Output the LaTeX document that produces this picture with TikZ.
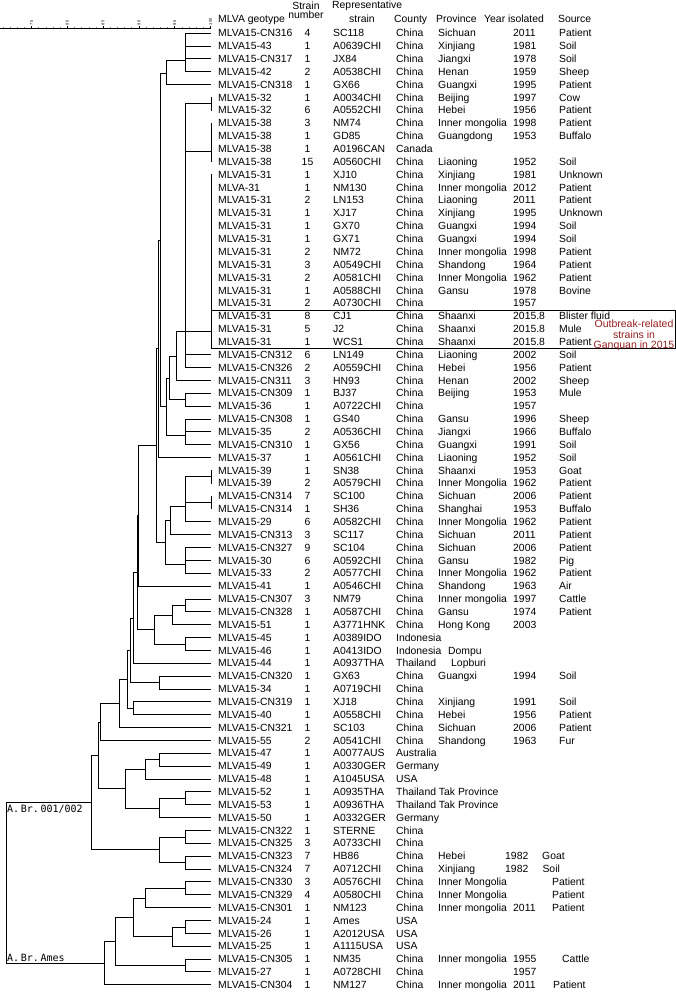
\documentclass[tikz,border=0pt]{standalone}
\usepackage{fontspec}
\setmainfont{Liberation Sans}
\newfontfamily\brfont{DejaVu Sans Mono}
\usepackage{tikz}

\begin{document}
\begin{tikzpicture}[x=1pt,y=-1pt,
  branch/.style={line width=0.8pt,line cap=rect},
  cell/.style={anchor=base west,inner sep=0pt,font=\fontsize{10.4}{12}\selectfont},
  num/.style={anchor=base,inner sep=0pt,font=\fontsize{10.4}{12}\selectfont},
  brlabel/.style={inner sep=0pt,font=\brfont\fontsize{10}{12}\selectfont}]
  \useasboundingbox (0,0) rectangle (676,992);
  \def\rowtop{33.1}\def\rowgap{12.86}\def\leafx{211}
  \definecolor{outred}{RGB}{150,30,30}

  % similarity scale
  \draw[line width=0.6pt] (0,28.3) -- (211,28.3);
  \foreach \m in {0,...,29}
    \draw[gray,line width=0.5pt] ({210.5-7.16*\m},28.3) -- ++(0,-1.3);
  \foreach \k/\v in {0/100,1/95,2/90,3/85,4/80,5/75}{
    \draw[line width=0.5pt] ({210.5-35.8*\k},28.3) -- ++(0,-2.5);
    \node[rotate=90,anchor=west,inner sep=0pt,font=\fontsize{4}{4}\selectfont]
      (tick\k) at ({210.5-35.8*\k},25.3) {\v};
  }

  % leaf ends
  \foreach \i in {1,...,75}{
    \pgfmathsetmacro{\yl}{\rowtop+\rowgap*(\i-1)}
    \coordinate (l\i) at (\leafx,\yl);
  }

  % inner nodes of the tree
  \coordinate (nA)   at (185,60.6);
  \coordinate (nB)   at (166,73.5);
  \coordinate (n6)   at (211,103.8);
  \coordinate (n8)   at (211,151);
  \coordinate (n12)  at (211,331);
  \coordinate (nD)   at (185,331);
  \coordinate (nE)   at (176,356);
  \coordinate (nG)   at (185,399.6);
  \coordinate (nF)   at (169,378);
  \coordinate (nI)   at (185,435);
  \coordinate (nH)   at (166,406.5);
  \coordinate (nC)   at (160,240);
  \coordinate (nJ)   at (158,348.7);
  \coordinate (n35)  at (211,476.8);
  \coordinate (n37)  at (211,502.5);
  \coordinate (nK)   at (185,506);
  \coordinate (nL)   at (170,520.3);
  \coordinate (nN)   at (185,564);
  \coordinate (nM)   at (165,542);
  \coordinate (nP)   at (156.5,445.3);
  \coordinate (nQ)   at (138.5,515.7);
  \coordinate (nT)   at (185,605.4);
  \coordinate (nU)   at (172,615);
  \coordinate (nV)   at (185,644);
  \coordinate (nS)   at (154,629.5);
  \coordinate (nR)   at (137.5,572.6);
  \coordinate (nW)   at (133,618);
  \coordinate (nX)   at (159,682.5);
  \coordinate (nWW)  at (130,650.2);
  \coordinate (nZ)   at (133,708.3);
  \coordinate (nAA)  at (127.7,679.2);
  \coordinate (nAB)  at (119.3,703.4);
  \coordinate (nAC)  at (100,721.9);
  \coordinate (nAE)  at (159.3,759.7);
  \coordinate (nAF)  at (145.7,769.3);
  \coordinate (nAG)  at (185,798.3);
  \coordinate (nAH)  at (159.3,807.9);
  \coordinate (nAI)  at (125,788.6);
  \coordinate (nAL)  at (98,755.3);
  \coordinate (n63)  at (185,836.9);
  \coordinate (n65)  at (185,862.6);
  \coordinate (nAJ)  at (159.3,849.7);
  \coordinate (nBr)  at (91.7,802.5);
  \coordinate (n67)  at (185,888.3);
  \coordinate (nAM)  at (145.7,897.9);
  \coordinate (n70)  at (185,926.9);
  \coordinate (nAN)  at (172.3,936.5);
  \coordinate (nAO)  at (133.3,917.2);
  \coordinate (n73)  at (185,965.5);
  \coordinate (nAP)  at (115,941.3);
  \coordinate (nAmes) at (104.3,963);
  \coordinate (root) at (6,882.8);

  % branches
  \foreach \i in {12,...,25}
    \draw[branch] (n12) |- (l\i);
  \foreach \p/\c in {nA/l1,nA/l2,nA/l3,nA/l4,nB/nA,nB/l5,n6/l6,n6/l7,
      n8/l8,n8/l9,n8/l10,n8/l11,nD/n6,nD/n8,nD/n12,nD/l26,nD/l27,
      nE/nD,nE/l28,nG/l29,nG/l30,nF/nE,nF/nG,nI/l31,nI/l32,nI/l33,
      nH/nF,nH/nI,nC/nB,nC/nH,nJ/nC,nJ/l34,n35/l35,n35/l36,n37/l37,n37/l38,
      nK/n35,nK/n37,nK/l39,nL/nK,nL/l40,nN/l41,nN/l42,nN/l43,nM/nL,nM/nN,
      nP/nJ,nP/nM,nQ/nP,nQ/l44,nT/l45,nT/l46,nU/nT,nU/l47,nV/l48,nV/l49,
      nS/nU,nS/nV,nR/nQ,nR/nS,nW/nR,nW/l50,nX/l51,nX/l52,nWW/nW,nWW/nX,
      nZ/l53,nZ/l54,nAA/nWW,nAA/nZ,nAB/nAA,nAB/l55,nAC/nAB,nAC/l56,
      nAE/l57,nAE/l58,nAF/nAE,nAF/l59,nAG/l60,nAG/l61,nAH/nAG,nAH/l62,
      nAI/nAF,nAI/nAH,nAL/nAC,nAL/nAI,n63/l63,n63/l64,n65/l65,n65/l66,
      nAJ/n63,nAJ/n65,nBr/nAL,nBr/nAJ,n67/l67,n67/l68,nAM/n67,nAM/l69,
      n70/l70,n70/l71,nAN/n70,nAN/l72,nAO/nAM,nAO/nAN,n73/l73,n73/l74,
      nAP/nAO,nAP/n73,nAmes/nAP,nAmes/l75,root/nBr,root/nAmes}
    \draw[branch] (\p) |- (\c);

  \node[brlabel,anchor=north west] (brA) at (7,805) {A.\,Br.\,001/002};
  \node[brlabel,anchor=south west] (brB) at (7,962) {A.\,Br.\,Ames};

  % header
  \node[cell] (hgeo)  at (218,23) {MLVA geotype};
  \node[num]  (hsn1)  at (306,10) {Strain};
  \node[num]  (hsn2)  at (306,19) {number};
  \node[cell] (hrep1) at (332,9)  {Representative};
  \node[cell] (hrep2) at (349,23) {strain};
  \node[cell] (hcty)  at (394,23) {County};
  \node[cell] (hprov) at (436,23) {Province};
  \node[cell] (hyear) at (484,23) {Year isolated};
  \node[cell] (hsrc)  at (558,23) {Source};

  % table rows
  \foreach \i/\rgeo/\rnum/\rstr/\rcty/\rprov/\ryear/\rsrc in {
    1/MLVA15-CN316/4/SC118/China/Sichuan/2011/Patient,
    2/MLVA15-43/1/A0639CHI/China/Xinjiang/1981/Soil,
    3/MLVA15-CN317/1/JX84/China/Jiangxi/1978/Soil,
    4/MLVA15-42/2/A0538CHI/China/Henan/1959/Sheep,
    5/MLVA15-CN318/1/GX66/China/Guangxi/1995/Patient,
    6/MLVA15-32/1/A0034CHI/China/Beijing/1997/Cow,
    7/MLVA15-32/6/A0552CHI/China/Hebei/1956/Patient,
    8/MLVA15-38/3/NM74/China/Inner mongolia/1998/Patient,
    9/MLVA15-38/1/GD85/China/Guangdong/1953/Buffalo,
    10/MLVA15-38/1/A0196CAN/Canada/{}/{}/{},
    11/MLVA15-38/15/A0560CHI/China/Liaoning/1952/Soil,
    12/MLVA15-31/1/XJ10/China/Xinjiang/1981/Unknown,
    13/MLVA-31/1/NM130/China/Inner mongolia/2012/Patient,
    14/MLVA15-31/2/LN153/China/Liaoning/2011/Patient,
    15/MLVA15-31/1/XJ17/China/Xinjiang/1995/Unknown,
    16/MLVA15-31/1/GX70/China/Guangxi/1994/Soil,
    17/MLVA15-31/1/GX71/China/Guangxi/1994/Soil,
    18/MLVA15-31/2/NM72/China/Inner mongolia/1998/Patient,
    19/MLVA15-31/3/A0549CHI/China/Shandong/1964/Patient,
    20/MLVA15-31/2/A0581CHI/China/Inner Mongolia/1962/Patient,
    21/MLVA15-31/1/A0588CHI/China/Gansu/1978/Bovine,
    22/MLVA15-31/2/A0730CHI/China/{}/1957/{},
    23/MLVA15-31/8/CJ1/China/Shaanxi/2015.8/Blister fluid,
    24/MLVA15-31/5/J2/China/Shaanxi/2015.8/Mule,
    25/MLVA15-31/1/WCS1/China/Shaanxi/2015.8/Patient,
    26/MLVA15-CN312/6/LN149/China/Liaoning/2002/Soil,
    27/MLVA15-CN326/2/A0559CHI/China/Hebei/1956/Patient,
    28/MLVA15-CN311/3/HN93/China/Henan/2002/Sheep,
    29/MLVA15-CN309/1/BJ37/China/Beijing/1953/Mule,
    30/MLVA15-36/1/A0722CHI/China/{}/1957/{},
    31/MLVA15-CN308/1/GS40/China/Gansu/1996/Sheep,
    32/MLVA15-35/2/A0536CHI/China/Jiangxi/1966/Buffalo,
    33/MLVA15-CN310/1/GX56/China/Guangxi/1991/Soil,
    34/MLVA15-37/1/A0561CHI/China/Liaoning/1952/Soil,
    35/MLVA15-39/1/SN38/China/Shaanxi/1953/Goat,
    36/MLVA15-39/2/A0579CHI/China/Inner Mongolia/1962/Patient,
    37/MLVA15-CN314/7/SC100/China/Sichuan/2006/Patient,
    38/MLVA15-CN314/1/SH36/China/Shanghai/1953/Buffalo,
    39/MLVA15-29/6/A0582CHI/China/Inner Mongolia/1962/Patient,
    40/MLVA15-CN313/3/SC117/China/Sichuan/2011/Patient,
    41/MLVA15-CN327/9/SC104/China/Sichuan/2006/Patient,
    42/MLVA15-30/6/A0592CHI/China/Gansu/1982/Pig,
    43/MLVA15-33/2/A0577CHI/China/Inner Mongolia/1962/Patient,
    44/MLVA15-41/1/A0546CHI/China/Shandong/1963/Air,
    45/MLVA15-CN307/3/NM79/China/Inner mongolia/1997/Cattle,
    46/MLVA15-CN328/1/A0587CHI/China/Gansu/1974/Patient,
    47/MLVA15-51/1/A3771HNK/China/Hong Kong/2003/{},
    48/MLVA15-45/1/A0389IDO/Indonesia/{}/{}/{},
    49/MLVA15-46/1/A0413IDO/Indonesia/{\hspace{10pt}Dompu}/{}/{},
    50/MLVA15-44/1/A0937THA/Thailand/{\hspace{13pt}Lopburi}/{}/{},
    51/MLVA15-CN320/1/GX63/China/Guangxi/1994/Soil,
    52/MLVA15-34/1/A0719CHI/China/{}/{}/{},
    53/MLVA15-CN319/1/XJ18/China/Xinjiang/1991/Soil,
    54/MLVA15-40/1/A0558CHI/China/Hebei/1956/Patient,
    55/MLVA15-CN321/1/SC103/China/Sichuan/2006/Patient,
    56/MLVA15-55/2/A0541CHI/China/Shandong/1963/Fur,
    57/MLVA15-47/1/A0077AUS/Australia/{}/{}/{},
    58/MLVA15-49/1/A0330GER/Germany/{}/{}/{},
    59/MLVA15-48/1/A1045USA/USA/{}/{}/{},
    60/MLVA15-52/1/A0935THA/Thailand Tak Province/{}/{}/{},
    61/MLVA15-53/1/A0936THA/Thailand Tak Province/{}/{}/{},
    62/MLVA15-50/1/A0332GER/Germany/{}/{}/{},
    63/MLVA15-CN322/1/STERNE/China/{}/{}/{},
    64/MLVA15-CN325/3/A0733CHI/China/{}/{}/{},
    65/MLVA15-CN323/7/HB86/China/Hebei/{\hspace{-8pt}1982}/{\hspace{-17pt}Goat},
    66/MLVA15-CN324/7/A0712CHI/China/Xinjiang/{\hspace{-8pt}1982}/{\hspace{-17pt}Soil},
    67/MLVA15-CN330/3/A0576CHI/China/Inner Mongolia/{}/{\hspace{-7pt}Patient},
    68/MLVA15-CN329/4/A0580CHI/China/Inner Mongolia/{}/{\hspace{-7pt}Patient},
    69/MLVA15-CN301/1/NM123/China/Inner mongolia/2011/{\hspace{-7pt}Patient},
    70/MLVA15-24/1/Ames/USA/{}/{}/{},
    71/MLVA15-26/1/A2012USA/USA/{}/{}/{},
    72/MLVA15-25/1/A1115USA/USA/{}/{}/{},
    73/MLVA15-CN305/1/NM35/China/Inner mongolia/1955/{\hspace{3pt}Cattle},
    74/MLVA15-27/1/A0728CHI/China/{}/1957/{},
    75/MLVA15-CN304/1/NM127/China/Inner mongolia/2011/{\hspace{-6pt}Patient}}{
    \pgfmathsetmacro{\yb}{\rowtop+\rowgap*(\i-1)+3.7}
    \node[cell] (geo\i)  at (218,\yb) {\rgeo};
    \node[num]  (sn\i)   at (307.5,\yb) {\rnum};
    \node[cell] (str\i)  at (333,\yb) {\rstr};
    \node[cell] (cty\i)  at (396,\yb) {\rcty};
    \node[cell] (prov\i) at (438,\yb) {\rprov};
    \node[cell] (yr\i)   at (513,\yb) {\ryear};
    \node[cell] (src\i)  at (559,\yb) {\rsrc};
  }

  % outbreak strains
  \node[draw,line width=0.8pt,anchor=north west,inner sep=0pt,
    minimum width=464,minimum height=38.8] (outbox) at (211,309.6) {};
  \node[anchor=south,inner sep=0pt,align=center,text=outred,
    font=\fontsize{10.5}{10.6}\selectfont] (outnote) at (634,351.2)
    {Outbreak-related\\strains in\\Ganquan in 2015};
\end{tikzpicture}
\end{document}
